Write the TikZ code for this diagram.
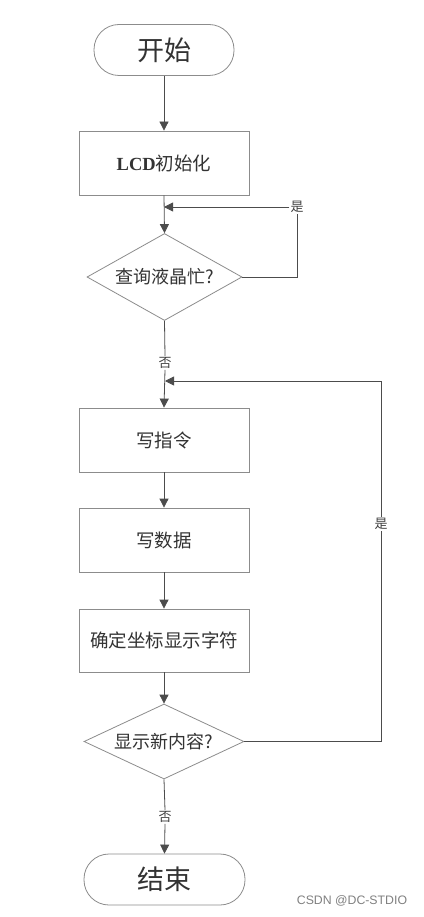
\documentclass[tikz,border=0pt]{standalone}
\usepackage{fontspec}
\setmainfont{Liberation Serif}
\newfontfamily\cjk{Noto Sans CJK SC}
\usetikzlibrary{shapes.geometric,arrows.meta}
\begin{document}
\begin{tikzpicture}[x=1pt,y=-1pt,
  boxst/.style={draw=black!45,line width=0.8pt,rectangle,minimum width=170pt,minimum height=64pt,inner sep=0pt,font=\cjk\fontsize{18.5}{20}\selectfont,text=black!80},
  termst/.style={draw=black!45,line width=0.8pt,rectangle,rounded corners=25pt,minimum height=51pt,inner sep=0pt,font=\cjk\fontsize{27}{30}\selectfont,text=black!80},
  decst/.style={draw=black!45,line width=0.8pt,diamond,inner sep=0pt,font=\cjk\fontsize{18}{20}\selectfont,text=black!80},
  lab/.style={inner sep=1pt,font=\cjk\fontsize{13}{14}\selectfont,text=black!75},
  conn/.style={draw=black!70,line width=0.8pt},
  arr/.style={conn,-{Triangle[length=9pt,width=9pt]}}
]
\useasboundingbox (0,0) rectangle (423,917);
\fill[white] (0,0) rectangle (423,917);
\node[termst,minimum width=140pt] (start) at (164,50) {开始};
\node[boxst] (lcd) at (164,163) {{\rmfamily\bfseries LCD}初始化};
\node[decst,aspect=1.78,minimum width=155pt,minimum height=87pt] (d1) at (164.5,277) {查询液晶忙?};
\node[lab] (yes1) at (297,207) {是};
\node[lab] (no1) at (165,363) {否};
\node[boxst] (b2) at (164,440) {写指令};
\node[boxst] (b3) at (164,540) {写数据};
\node[boxst,minimum height=63pt] (b4) at (164,640.5) {确定坐标显示字符};
\node[decst,aspect=2.13,minimum width=160pt,minimum height=75pt] (d2) at (164,741.5) {显示新内容?};
\node[lab] (yes2) at (381,524) {是};
\node[lab] (no2) at (165,817) {否};
\node[termst,minimum width=161pt] (stop) at (164.5,879.5) {结束};
\node[font=\fontspec{Liberation Sans}\fontsize{12.3}{13}\selectfont,text=black!50,inner sep=0pt] (wm) at (352,901) {CSDN @DC-STDIO};
\coordinate (c1) at (165,381);
\coordinate (c2) at (381,381);
\coordinate (c3) at (381,741.5);
\draw[arr] (start.south) -- (lcd.north);
\draw[arr] (lcd.south) -- (d1.north);
\draw[conn] (d1.east) -| (yes1.south);
\draw[arr] (yes1.west) -- (lcd.south |- yes1.west);
\draw[conn] (d1.south) -- (no1.north);
\draw[arr] (no1.south) -- (b2.north);
\draw[arr] (b2.south) -- (b3.north);
\draw[arr] (b3.south) -- (b4.north);
\draw[arr] (b4.south) -- (d2.north);
\draw[conn] (d2.south) -- (no2.north);
\draw[arr] (no2.south) -- (stop.north);
\draw[conn] (d2.east) -- (c3) -- (yes2.south);
\draw[conn] (yes2.north) -- (c2);
\draw[arr] (c2) -- (c1);
\end{tikzpicture}
\end{document}
